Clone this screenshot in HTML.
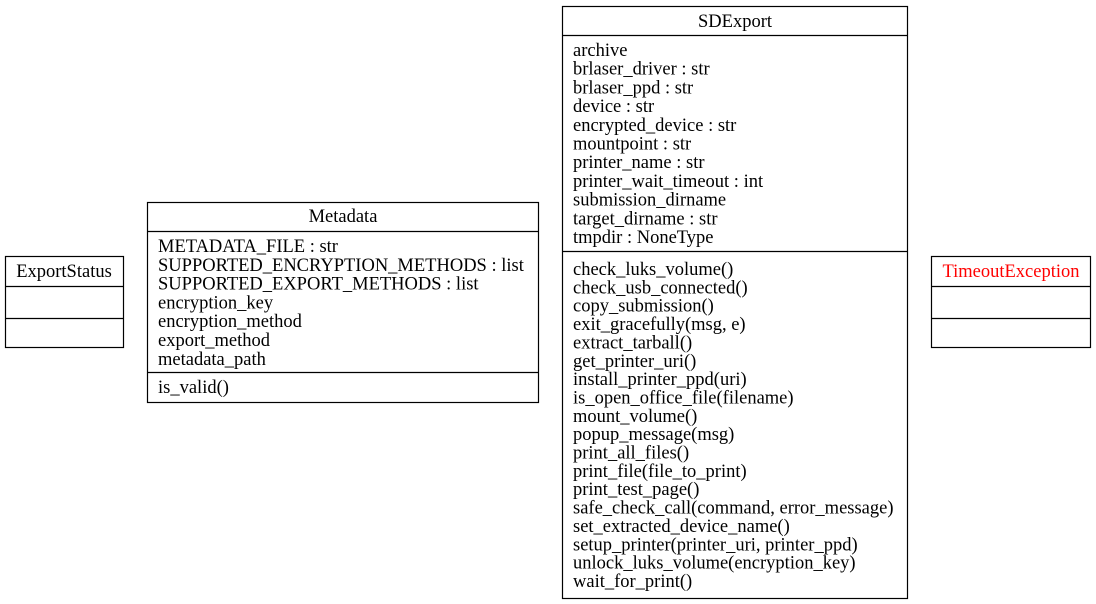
<!DOCTYPE html>
<html><head><meta charset="utf-8"><style>
html,body{margin:0;padding:0;background:#fff;}
svg{display:block;}
text{font-family:"Liberation Serif","Times New Roman",serif;font-size:18.5px;fill:#000;}
</style></head><body>
<svg width="1096" height="604" viewBox="0 0 1096 604" xmlns="http://www.w3.org/2000/svg">
<g fill="none" stroke="#000" stroke-width="1.2">
<rect x="5.5" y="256.5" width="118" height="91"/>
<line x1="5.5" y1="286.5" x2="123.5" y2="286.5"/>
<line x1="5.5" y1="318.5" x2="123.5" y2="318.5"/>
<rect x="147.5" y="202.5" width="391" height="200"/>
<line x1="147.5" y1="231.5" x2="538.5" y2="231.5"/>
<line x1="147.5" y1="372.5" x2="538.5" y2="372.5"/>
<rect x="562.5" y="6.5" width="345" height="592"/>
<line x1="562.5" y1="35.5" x2="907.5" y2="35.5"/>
<line x1="562.5" y1="251.5" x2="907.5" y2="251.5"/>
<rect x="931.5" y="256.5" width="159" height="91"/>
<line x1="931.5" y1="286.5" x2="1090.5" y2="286.5"/>
<line x1="931.5" y1="318.5" x2="1090.5" y2="318.5"/>
</g>
<text x="64" y="277" text-anchor="middle">ExportStatus</text>
<text x="1011" y="277" text-anchor="middle" style="fill:#f00">TimeoutException</text>
<text x="343" y="222" text-anchor="middle">Metadata</text>
<text x="158" y="252">METADATA_FILE : str</text>
<text x="158" y="270.8">SUPPORTED_ENCRYPTION_METHODS : list</text>
<text x="158" y="289.6">SUPPORTED_EXPORT_METHODS : list</text>
<text x="158" y="308.4">encryption_key</text>
<text x="158" y="327.2">encryption_method</text>
<text x="158" y="346">export_method</text>
<text x="158" y="364.8">metadata_path</text>
<text x="158" y="393">is_valid()</text>
<text x="735" y="27" text-anchor="middle">SDExport</text>
<text x="573" y="56">archive</text>
<text x="573" y="74.7">brlaser_driver : str</text>
<text x="573" y="93.4">brlaser_ppd : str</text>
<text x="573" y="112.1">device : str</text>
<text x="573" y="130.8">encrypted_device : str</text>
<text x="573" y="149.5">mountpoint : str</text>
<text x="573" y="168.2">printer_name : str</text>
<text x="573" y="186.9">printer_wait_timeout : int</text>
<text x="573" y="205.6">submission_dirname</text>
<text x="573" y="224.3">target_dirname : str</text>
<text x="573" y="243">tmpdir : NoneType</text>
<text x="573" y="275">check_luks_volume()</text>
<text x="573" y="293.4">check_usb_connected()</text>
<text x="573" y="311.7">copy_submission()</text>
<text x="573" y="330.1">exit_gracefully(msg, e)</text>
<text x="573" y="348.4">extract_tarball()</text>
<text x="573" y="366.8">get_printer_uri()</text>
<text x="573" y="385.1">install_printer_ppd(uri)</text>
<text x="573" y="403.5">is_open_office_file(filename)</text>
<text x="573" y="421.8">mount_volume()</text>
<text x="573" y="440.2">popup_message(msg)</text>
<text x="573" y="458.5">print_all_files()</text>
<text x="573" y="476.9">print_file(file_to_print)</text>
<text x="573" y="495.2">print_test_page()</text>
<text x="573" y="513.6">safe_check_call(command, error_message)</text>
<text x="573" y="531.9">set_extracted_device_name()</text>
<text x="573" y="550.3">setup_printer(printer_uri, printer_ppd)</text>
<text x="573" y="568.6">unlock_luks_volume(encryption_key)</text>
<text x="573" y="587">wait_for_print()</text>
</svg>
</body></html>
